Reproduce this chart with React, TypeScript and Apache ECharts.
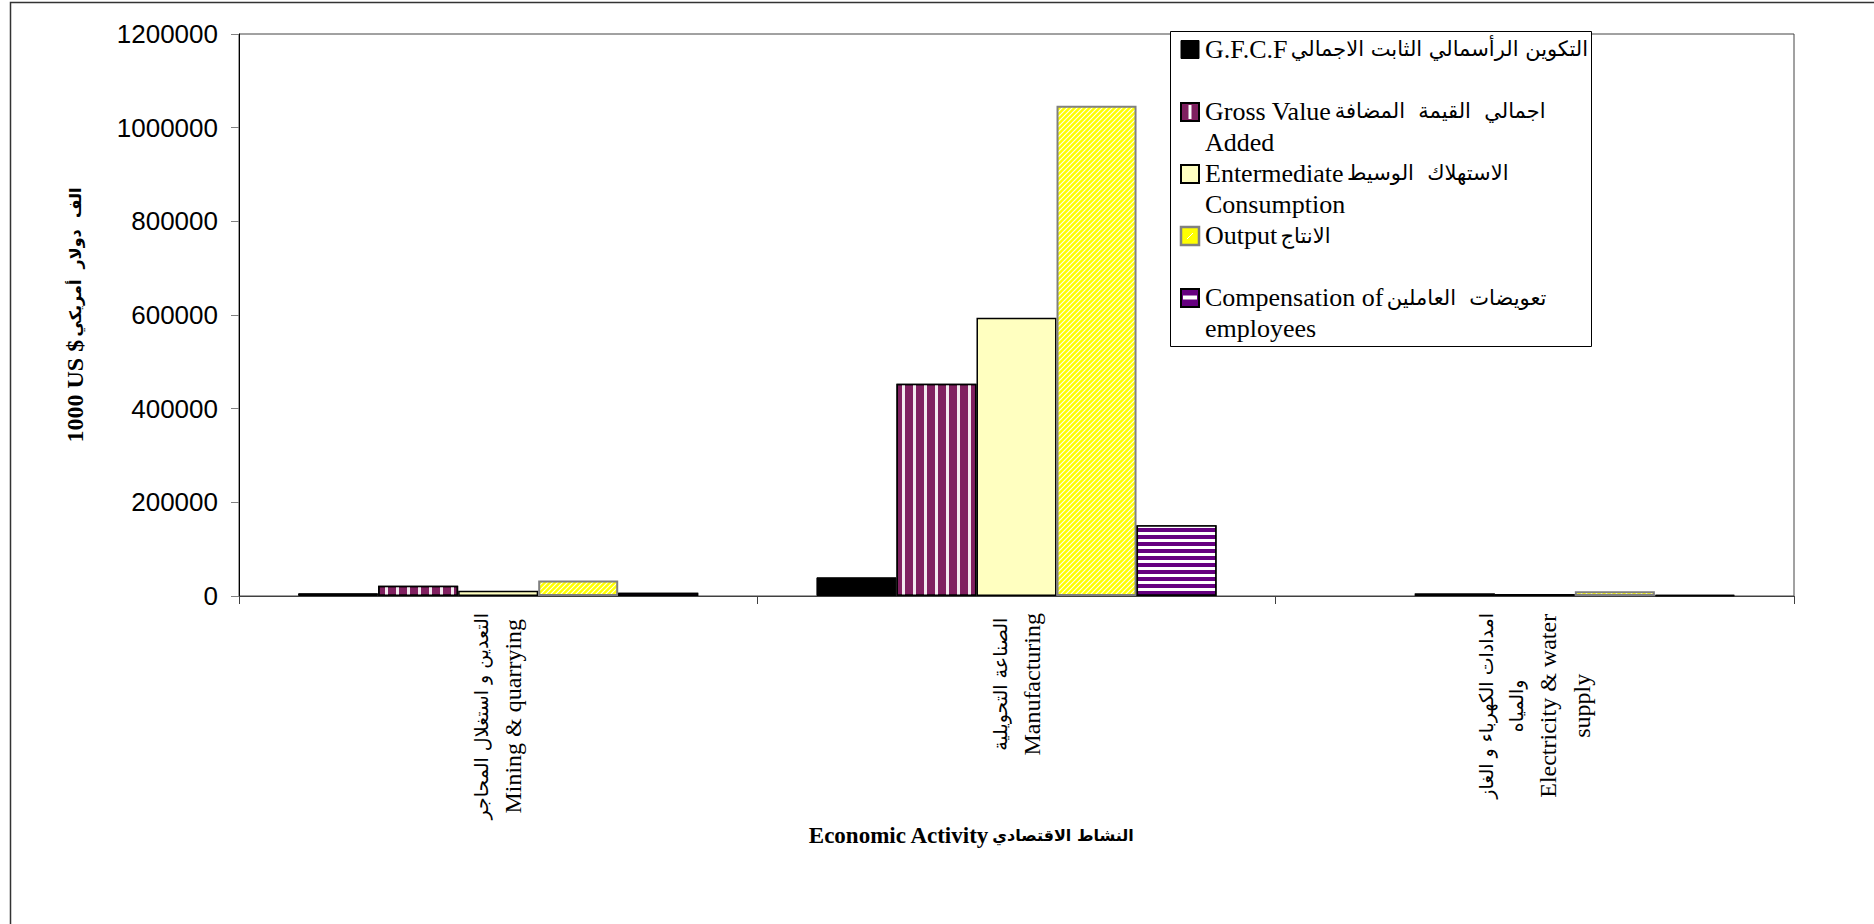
import React, { useEffect, useRef } from 'react';
import * as echarts from 'echarts';

// ---- data ----
const categories = [
  'التعدين و استغلال المحاجر\nMining & quarrying',
  'الصناعة التحويلية\nManufacturing',
  'امدادات الكهرباء و الغاز\nوالمياه\nElectricity & water\nsupply',
];
const seriesNames = [
  'G.F.C.F',
  'Gross Value Added',
  'Entermediate Consumption',
  'Output',
  'Compensation of employees',
];
const gfcf = [6000, 40000, null];
const grossValueAdded = [22000, 453000, 5500];
const intermediateConsumption = [11000, 594000, 4500];
const outputValues = [33000, 1047000, 10000];
const compensation = [7000, 151000, 2500];
const yMin = 0;
const yMax = 1200000;
const yStep = 200000;

// legend lines: [english part, arabic part]
const legendLines: [string, string][] = [
  ['G.F.C.F', 'التكوين الرأسمالي الثابت الاجمالي'],
  ['', ''],
  ['Gross Value', 'اجمالي  القيمة  المضافة'],
  ['Added', ''],
  ['Entermediate', 'الاستهلاك  الوسيط'],
  ['Consumption', ''],
  ['Output', 'الانتاج'],
  ['', ''],
  ['Compensation of', 'تعويضات  العاملين'],
  ['employees', ''],
];
const yTitleEn = '1000 US $';
const yTitleAr = 'الف  دولار  أمريكي';
const xTitleEn = 'Economic Activity';
const xTitleAr = 'النشاط الاقتصادي';

const SERIF = '"Liberation Serif", "Times New Roman", serif';
const SANS = '"Liberation Sans", Arial, sans-serif';
const ARABIC = '"DejaVu Sans", "Noto Sans", sans-serif';

const GVA_COLOR = '#802060';
const COMP_COLOR = '#660080';
const IC_COLOR = '#ffffc0';
const OUT_COLOR = '#ffff00';

const isArabic = (s: string) => /[\u0600-\u06FF]/.test(s);

function makeDiagonalTile(): HTMLCanvasElement {
  const size = 5;
  const c = document.createElement('canvas');
  c.width = size;
  c.height = size;
  const ctx = c.getContext('2d')!;
  ctx.fillStyle = OUT_COLOR;
  ctx.fillRect(0, 0, size, size);
  ctx.strokeStyle = 'rgba(255,255,255,0.95)';
  ctx.lineWidth = 1.1;
  const seg = (x1: number, y1: number, x2: number, y2: number) => {
    ctx.beginPath();
    ctx.moveTo(x1, y1);
    ctx.lineTo(x2, y2);
    ctx.stroke();
  };
  seg(-1, size + 1, size + 1, -1);
  seg(-1, 1, 1, -1);
  seg(size - 1, size + 1, size + 1, size - 1);
  return c;
}

export default function App() {
  const ref = useRef<HTMLDivElement>(null);
  useEffect(() => {
    if (!ref.current) return;
    const chart = echarts.init(ref.current, null, { renderer: 'svg' });

    const legendX = 1181;
    const textX = 1205;
    const lineY0 = 49;
    const lineStep = 31.1;
    const legendRich = {
      en: { fontFamily: SERIF, fontSize: 26, color: '#000' },
      ar: { fontFamily: ARABIC, fontSize: 21, color: '#000' },
    };
    const legendTexts = legendLines
      .map(([en, ar], i) => ({ en, ar, i }))
      .filter((l) => l.en || l.ar)
      .map(({ en, ar, i }) => ({
        type: 'text',
        z: 101,
        x: textX,
        y: lineY0 + i * lineStep,
        style: {
          text: ar ? `{en|${en}} {ar|${ar}}` : `{en|${en}}`,
          rich: legendRich,
          fill: '#000',
          align: 'left',
          verticalAlign: 'middle',
        },
      }));

    const icon = (cy: number, fill: string, stroke: string | null, lw = 2) => ({
      type: 'rect',
      z: 101,
      shape: { x: legendX, y: cy - 9, width: 18, height: 18 },
      style: { fill, stroke: stroke || undefined, lineWidth: stroke ? lw : 0 },
    });

    const iconY = [49.5, 112, 174, 236, 298];
    const tile = makeDiagonalTile();

    const barCommon = { type: 'bar', barGap: '0%', barCategoryGap: '22.8%' };

    const option: any = {
      animation: false,
      backgroundColor: '#fff',
      grid: {
        left: 239,
        top: 34,
        width: 1555,
        height: 562,
        show: true,
        borderColor: '#444',
        borderWidth: 1,
        containLabel: false,
      },
      xAxis: {
        type: 'category',
        data: categories,
        axisLine: { show: true, lineStyle: { color: '#404040', width: 1 } },
        axisTick: { show: true, alignWithLabel: false, length: 8, lineStyle: { color: '#404040' } },
        splitLine: { show: false },
        axisLabel: {
          interval: 0,
          rotate: 90,
          margin: 17,
          color: '#000',
          formatter: (v: string) =>
            v
              .split('\n')
              .map((l) => (isArabic(l) ? `{ar|${l}}` : `{en|${l}}`))
              .join('\n'),
          rich: {
            ar: { align: 'center', fontFamily: ARABIC, fontSize: 19, lineHeight: 30, color: '#000' },
            en: { align: 'center', fontFamily: SERIF, fontSize: 24, lineHeight: 34, color: '#000' },
          },
        },
      },
      yAxis: {
        type: 'value',
        min: yMin,
        max: yMax,
        interval: yStep,
        name: `{en|${yTitleEn}} {ar|${yTitleAr}}`,
        nameLocation: 'middle',
        nameGap: 152,
        nameRotate: 90,
        nameTextStyle: {
          color: '#000',
          rich: {
            en: { fontFamily: SERIF, fontWeight: 'bold', fontSize: 24, color: '#000' },
            ar: { fontFamily: ARABIC, fontWeight: 'bold', fontSize: 16, color: '#000' },
          },
        },
        axisLine: { show: true, lineStyle: { color: '#000', width: 1 } },
        axisTick: { show: true, inside: false, length: 8, lineStyle: { color: '#808080' } },
        splitLine: { show: false },
        axisLabel: {
          fontFamily: SANS,
          fontSize: 26,
          color: '#000',
          margin: 21,
          formatter: (v: number) => String(v),
        },
      },
      series: [
        {
          ...barCommon,
          name: seriesNames[0],
          data: gfcf,
          itemStyle: { color: '#000', borderColor: '#000', borderWidth: 1 },
        },
        {
          ...barCommon,
          name: seriesNames[1],
          data: grossValueAdded,
          itemStyle: {
            color: GVA_COLOR,
            borderColor: '#000',
            borderWidth: 1.5,
            decal: {
              symbol: 'rect',
              symbolSize: 1,
              color: 'rgba(255,255,255,0.9)',
              dashArrayX: [2.5, 7.5],
              dashArrayY: [10, 0],
              rotation: 0,
            },
          },
        },
        {
          ...barCommon,
          name: seriesNames[2],
          data: intermediateConsumption,
          itemStyle: { color: IC_COLOR, borderColor: '#000', borderWidth: 1.5 },
        },
        {
          ...barCommon,
          name: seriesNames[3],
          data: outputValues,
          itemStyle: {
            color: { image: tile, repeat: 'repeat' },
            borderColor: '#808080',
            borderWidth: 2,
          },
        },
        {
          ...barCommon,
          name: seriesNames[4],
          data: compensation,
          itemStyle: {
            color: COMP_COLOR,
            borderColor: '#000',
            borderWidth: 1.5,
            decal: {
              symbol: 'rect',
              symbolSize: 1,
              color: '#fff',
              dashArrayX: [10, 0],
              dashArrayY: [3, 4],
              rotation: 0,
            },
          },
        },
      ],
      graphic: [
        {
          type: 'rect',
          z: 0,
          silent: true,
          shape: { x: 10.5, y: 2.5, width: 1900, height: 1000 },
          style: { fill: 'none', stroke: '#333', lineWidth: 1.5 },
        },
        {
          type: 'text',
          z: 50,
          x: 971,
          y: 835,
          style: {
            text: `{en|${xTitleEn}} {ar|${xTitleAr}}`,
            rich: {
              en: { fontFamily: SERIF, fontWeight: 'bold', fontSize: 23, color: '#000' },
              ar: { fontFamily: ARABIC, fontWeight: 'bold', fontSize: 16, color: '#000' },
            },
            align: 'center',
            verticalAlign: 'middle',
          },
        },
        {
          type: 'rect',
          z: 100,
          shape: { x: 1170.5, y: 31.5, width: 421, height: 315 },
          style: { fill: '#fff', stroke: '#000', lineWidth: 1 },
        },
        icon(iconY[0], '#000', '#000', 1),
        icon(iconY[1], GVA_COLOR, '#000'),
        {
          type: 'rect',
          z: 102,
          shape: { x: legendX + 7.5, y: iconY[1] - 7, width: 3, height: 14 },
          style: { fill: '#fff' },
        },
        icon(iconY[2], IC_COLOR, '#000'),
        icon(iconY[3], OUT_COLOR, '#808080', 2.5),
        {
          type: 'line',
          z: 102,
          shape: { x1: legendX + 6, y1: iconY[3] + 3, x2: legendX + 12, y2: iconY[3] - 3 },
          style: { stroke: '#fff', lineWidth: 1 },
        },
        icon(iconY[4], COMP_COLOR, '#000'),
        {
          type: 'rect',
          z: 102,
          shape: { x: legendX + 2, y: iconY[4] - 2.5, width: 14, height: 4 },
          style: { fill: '#fff' },
        },
        ...legendTexts,
      ],
    };
    chart.setOption(option);
    return () => chart.dispose();
  }, []);
  return (
    <div
      ref={ref}
      style={{ position: 'absolute', left: 0, top: 0, width: 1874, height: 924, background: '#fff' }}
    />
  );
}
